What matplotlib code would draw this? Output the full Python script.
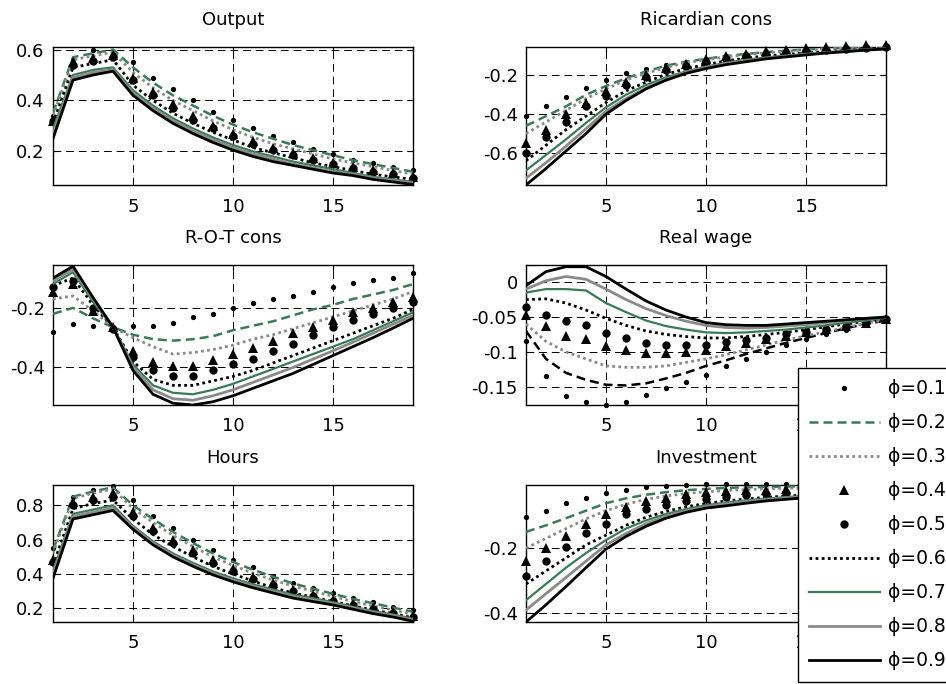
import numpy as np
import matplotlib
matplotlib.use("Agg")
import matplotlib.pyplot as plt
from matplotlib.ticker import FuncFormatter

plt.rcParams['font.family'] = ['DejaVu Sans']
plt.rcParams['axes.unicode_minus'] = False

#  data
periods = list(range(1, 20))
phis = [0.1, 0.2, 0.3, 0.4, 0.5, 0.6, 0.7, 0.8, 0.9]
titles = ['Output', 'Ricardian cons', 'R-O-T cons', 'Real wage', 'Hours', 'Investment']

output_irf = [
    [0.34, 0.56, 0.60, 0.59, 0.55, 0.49, 0.445, 0.40, 0.355, 0.325, 0.29, 0.26, 0.235, 0.21, 0.19, 0.168, 0.155, 0.14, 0.125],
    [0.35, 0.57, 0.585, 0.60, 0.53, 0.47, 0.42, 0.38, 0.34, 0.305, 0.275, 0.25, 0.225, 0.205, 0.185, 0.165, 0.15, 0.135, 0.12],
    [0.34, 0.56, 0.575, 0.59, 0.51, 0.45, 0.40, 0.36, 0.32, 0.285, 0.255, 0.23, 0.21, 0.19, 0.17, 0.155, 0.14, 0.125, 0.11],
    [0.32, 0.55, 0.565, 0.58, 0.49, 0.435, 0.385, 0.34, 0.30, 0.27, 0.24, 0.215, 0.195, 0.175, 0.155, 0.14, 0.125, 0.115, 0.10],
    [0.32, 0.54, 0.555, 0.57, 0.48, 0.42, 0.37, 0.325, 0.29, 0.26, 0.23, 0.205, 0.185, 0.165, 0.15, 0.135, 0.12, 0.11, 0.095],
    [0.31, 0.53, 0.545, 0.56, 0.46, 0.40, 0.35, 0.31, 0.275, 0.245, 0.215, 0.195, 0.175, 0.155, 0.14, 0.125, 0.11, 0.10, 0.09],
    [0.29, 0.50, 0.52, 0.53, 0.44, 0.38, 0.33, 0.29, 0.255, 0.225, 0.20, 0.18, 0.16, 0.145, 0.13, 0.115, 0.10, 0.09, 0.08],
    [0.27, 0.49, 0.51, 0.52, 0.43, 0.37, 0.32, 0.28, 0.245, 0.215, 0.19, 0.17, 0.15, 0.135, 0.12, 0.11, 0.095, 0.085, 0.075],
    [0.25, 0.48, 0.50, 0.515, 0.42, 0.36, 0.31, 0.27, 0.235, 0.205, 0.18, 0.16, 0.145, 0.13, 0.115, 0.105, 0.09, 0.08, 0.07],
]

ricardian_irf = [
    [-0.41, -0.36, -0.31, -0.265, -0.225, -0.19, -0.165, -0.145, -0.13, -0.115, -0.10, -0.09, -0.08, -0.072, -0.066, -0.06, -0.056, -0.052, -0.05],
    [-0.46, -0.41, -0.36, -0.30, -0.255, -0.215, -0.18, -0.15, -0.13, -0.115, -0.10, -0.09, -0.08, -0.073, -0.067, -0.062, -0.058, -0.055, -0.053],
    [-0.50, -0.44, -0.38, -0.32, -0.27, -0.225, -0.19, -0.16, -0.135, -0.12, -0.105, -0.094, -0.084, -0.076, -0.07, -0.064, -0.06, -0.057, -0.055],
    [-0.55, -0.48, -0.40, -0.34, -0.28, -0.235, -0.20, -0.16, -0.14, -0.118, -0.101, -0.089, -0.077, -0.068, -0.061, -0.054, -0.048, -0.043, -0.045],
    [-0.60, -0.52, -0.44, -0.36, -0.305, -0.25, -0.21, -0.175, -0.15, -0.13, -0.115, -0.10, -0.09, -0.083, -0.077, -0.071, -0.066, -0.061, -0.056],
    [-0.64, -0.56, -0.48, -0.41, -0.34, -0.28, -0.235, -0.195, -0.165, -0.145, -0.125, -0.112, -0.10, -0.092, -0.085, -0.078, -0.072, -0.066, -0.06],
    [-0.69, -0.61, -0.53, -0.445, -0.365, -0.30, -0.25, -0.21, -0.18, -0.155, -0.135, -0.12, -0.108, -0.098, -0.09, -0.082, -0.075, -0.068, -0.062],
    [-0.73, -0.65, -0.565, -0.475, -0.385, -0.32, -0.265, -0.22, -0.185, -0.16, -0.14, -0.125, -0.112, -0.102, -0.092, -0.083, -0.076, -0.069, -0.063],
    [-0.765, -0.68, -0.59, -0.50, -0.40, -0.33, -0.27, -0.225, -0.19, -0.165, -0.145, -0.13, -0.115, -0.105, -0.095, -0.085, -0.078, -0.07, -0.064],
]

rot_irf = [
    [-0.28, -0.255, -0.26, -0.265, -0.26, -0.26, -0.25, -0.23, -0.22, -0.20, -0.185, -0.17, -0.16, -0.145, -0.13, -0.115, -0.105, -0.10, -0.083],
    [-0.22, -0.20, -0.235, -0.265, -0.29, -0.305, -0.31, -0.305, -0.295, -0.275, -0.26, -0.245, -0.225, -0.205, -0.19, -0.17, -0.155, -0.14, -0.12],
    [-0.17, -0.16, -0.21, -0.265, -0.30, -0.33, -0.355, -0.35, -0.34, -0.325, -0.305, -0.29, -0.27, -0.25, -0.23, -0.21, -0.19, -0.17, -0.145],
    [-0.145, -0.12, -0.21, -0.265, -0.345, -0.38, -0.395, -0.395, -0.375, -0.355, -0.335, -0.31, -0.285, -0.265, -0.24, -0.215, -0.20, -0.18, -0.165],
    [-0.13, -0.11, -0.20, -0.27, -0.365, -0.41, -0.43, -0.43, -0.41, -0.39, -0.37, -0.345, -0.32, -0.29, -0.265, -0.24, -0.22, -0.20, -0.18],
    [-0.125, -0.10, -0.19, -0.265, -0.38, -0.44, -0.46, -0.46, -0.445, -0.43, -0.41, -0.385, -0.36, -0.335, -0.31, -0.285, -0.26, -0.235, -0.205],
    [-0.12, -0.08, -0.18, -0.265, -0.39, -0.46, -0.485, -0.49, -0.475, -0.455, -0.43, -0.405, -0.38, -0.355, -0.33, -0.305, -0.275, -0.245, -0.215],
    [-0.11, -0.07, -0.17, -0.265, -0.40, -0.475, -0.505, -0.51, -0.495, -0.475, -0.45, -0.425, -0.4, -0.372, -0.344, -0.315, -0.285, -0.255, -0.225],
    [-0.10, -0.06, -0.165, -0.265, -0.41, -0.49, -0.52, -0.526, -0.515, -0.495, -0.47, -0.445, -0.42, -0.39, -0.36, -0.33, -0.30, -0.268, -0.235],
]

wage_irf = [
    [-0.085, -0.135, -0.163, -0.172, -0.176, -0.172, -0.162, -0.152, -0.143, -0.133, -0.12, -0.11, -0.10, -0.09, -0.082, -0.075, -0.068, -0.061, -0.055],
    [-0.07, -0.11, -0.13, -0.14, -0.147, -0.148, -0.145, -0.138, -0.13, -0.12, -0.112, -0.103, -0.095, -0.087, -0.08, -0.073, -0.066, -0.06, -0.055],
    [-0.06, -0.085, -0.10, -0.11, -0.12, -0.122, -0.122, -0.12, -0.115, -0.11, -0.104, -0.097, -0.09, -0.083, -0.077, -0.071, -0.065, -0.059, -0.054],
    [-0.047, -0.063, -0.077, -0.082, -0.092, -0.097, -0.101, -0.101, -0.10, -0.097, -0.092, -0.087, -0.082, -0.077, -0.072, -0.067, -0.063, -0.058, -0.053],
    [-0.035, -0.047, -0.055, -0.062, -0.073, -0.08, -0.087, -0.09, -0.09, -0.09, -0.086, -0.083, -0.08, -0.075, -0.071, -0.067, -0.063, -0.058, -0.053],
    [-0.025, -0.024, -0.03, -0.04, -0.052, -0.062, -0.07, -0.075, -0.078, -0.08, -0.08, -0.078, -0.075, -0.072, -0.068, -0.064, -0.06, -0.056, -0.052],
    [-0.015, -0.01, -0.01, -0.012, -0.03, -0.043, -0.055, -0.063, -0.068, -0.072, -0.073, -0.072, -0.07, -0.068, -0.065, -0.062, -0.058, -0.055, -0.051],
    [-0.01, 0.002, 0.008, 0.004, -0.01, -0.025, -0.038, -0.048, -0.056, -0.062, -0.065, -0.066, -0.065, -0.063, -0.061, -0.058, -0.055, -0.052, -0.05],
    [-0.005, 0.015, 0.022, 0.022, 0.008, -0.01, -0.027, -0.04, -0.05, -0.058, -0.061, -0.062, -0.062, -0.06, -0.058, -0.056, -0.054, -0.052, -0.05],
]

hours_irf = [
    [0.55, 0.85, 0.89, 0.915, 0.83, 0.74, 0.67, 0.60, 0.54, 0.48, 0.44, 0.39, 0.35, 0.32, 0.29, 0.26, 0.235, 0.21, 0.19],
    [0.54, 0.85, 0.88, 0.905, 0.80, 0.72, 0.645, 0.58, 0.52, 0.47, 0.425, 0.385, 0.345, 0.315, 0.285, 0.255, 0.23, 0.205, 0.18],
    [0.52, 0.84, 0.87, 0.895, 0.78, 0.70, 0.625, 0.56, 0.50, 0.45, 0.405, 0.365, 0.33, 0.30, 0.27, 0.24, 0.215, 0.19, 0.165],
    [0.48, 0.82, 0.85, 0.87, 0.76, 0.67, 0.60, 0.54, 0.48, 0.43, 0.385, 0.345, 0.31, 0.28, 0.25, 0.225, 0.20, 0.18, 0.155],
    [0.47, 0.80, 0.83, 0.85, 0.74, 0.65, 0.58, 0.52, 0.465, 0.415, 0.37, 0.335, 0.30, 0.27, 0.245, 0.22, 0.195, 0.175, 0.15],
    [0.45, 0.78, 0.81, 0.83, 0.72, 0.63, 0.56, 0.50, 0.445, 0.40, 0.36, 0.32, 0.29, 0.265, 0.24, 0.215, 0.19, 0.17, 0.145],
    [0.42, 0.75, 0.775, 0.80, 0.68, 0.59, 0.52, 0.465, 0.415, 0.375, 0.34, 0.31, 0.28, 0.26, 0.236, 0.21, 0.185, 0.165, 0.14],
    [0.40, 0.735, 0.76, 0.785, 0.67, 0.58, 0.51, 0.455, 0.405, 0.365, 0.33, 0.30, 0.27, 0.25, 0.228, 0.203, 0.178, 0.158, 0.132],
    [0.375, 0.72, 0.745, 0.77, 0.66, 0.57, 0.50, 0.445, 0.395, 0.355, 0.32, 0.29, 0.26, 0.24, 0.22, 0.195, 0.17, 0.15, 0.125],
]

invest_irf = [
    [-0.105, -0.085, -0.062, -0.046, -0.031, -0.02, -0.012, -0.008, -0.006, -0.004, -0.004, -0.004, -0.004, -0.004, -0.004, -0.004, -0.004, -0.004, -0.004],
    [-0.15, -0.13, -0.108, -0.085, -0.062, -0.047, -0.036, -0.028, -0.022, -0.018, -0.015, -0.013, -0.012, -0.011, -0.01, -0.01, -0.009, -0.009, -0.008],
    [-0.20, -0.17, -0.14, -0.11, -0.085, -0.065, -0.05, -0.04, -0.032, -0.027, -0.023, -0.02, -0.018, -0.016, -0.015, -0.014, -0.013, -0.012, -0.012],
    [-0.24, -0.20, -0.162, -0.126, -0.095, -0.074, -0.056, -0.045, -0.035, -0.028, -0.024, -0.022, -0.02, -0.019, -0.018, -0.017, -0.016, -0.015, -0.015],
    [-0.285, -0.24, -0.195, -0.155, -0.125, -0.095, -0.08, -0.066, -0.056, -0.048, -0.043, -0.038, -0.035, -0.032, -0.03, -0.028, -0.026, -0.025, -0.024],
    [-0.31, -0.27, -0.23, -0.19, -0.16, -0.13, -0.105, -0.087, -0.073, -0.063, -0.055, -0.049, -0.044, -0.04, -0.037, -0.034, -0.032, -0.03, -0.028],
    [-0.36, -0.31, -0.26, -0.215, -0.175, -0.14, -0.115, -0.095, -0.08, -0.068, -0.06, -0.053, -0.048, -0.043, -0.04, -0.037, -0.034, -0.032, -0.03],
    [-0.39, -0.34, -0.29, -0.24, -0.19, -0.155, -0.125, -0.102, -0.085, -0.073, -0.064, -0.057, -0.051, -0.046, -0.042, -0.039, -0.036, -0.033, -0.031],
    [-0.427, -0.374, -0.318, -0.26, -0.203, -0.164, -0.133, -0.108, -0.09, -0.077, -0.07, -0.062, -0.055, -0.05, -0.045, -0.042, -0.038, -0.035, -0.033],
]

panels = [output_irf, ricardian_irf, rot_irf, wage_irf, hours_irf, invest_irf]
ylims = [(0.068, 0.61), (-0.765, -0.054), (-0.526, -0.056),
         (-0.176, 0.0245), (0.121, 0.918), (-0.427, -0.006)]
yticks = [[0.2, 0.4, 0.6], [-0.6, -0.4, -0.2], [-0.4, -0.2],
          [-0.15, -0.1, -0.05, 0], [0.2, 0.4, 0.6, 0.8], [-0.4, -0.2]]

green = '#3b7a57'
gray = '#8a8a8a'
# (linestyle, marker, color, lw, markersize)
styles = [
    ('none', 'o', 'k', 0, 3.8),
    ((0, (3.6, 2.0)), None, green, 1.8, 0),
    ((0, (1.0, 1.2)), None, gray, 2.0, 0),
    ('none', '^', 'k', 0, 7),
    ('none', 'o', 'k', 0, 6),
    ((0, (1.0, 1.2)), None, 'k', 2.0, 0),
    ('-', None, green, 1.6, 0),
    ('-', None, gray, 2.0, 0),
    ('-', None, 'k', 2.0, 0),
]

fig = plt.figure(figsize=(9.46, 6.84), dpi=100)

lefts = [53, 526]
rows = [(47, 185), (265, 405), (485, 622)]
W, H = 946.0, 684.0
fs = 13

handles = []
for i, data in enumerate(panels):
    col = i % 2
    top, bot = rows[i // 2]
    ax = fig.add_axes([lefts[col] / W, 1 - bot / H, 360 / W, (bot - top) / H])
    for j, series in enumerate(data):
        ls, mk, c, lw, ms = styles[j]
        if i == 3 and j == 1:
            c = 'k'  # dashed line drawn in black in this panel
        line, = ax.plot(periods, series, linestyle=ls, marker=mk, color=c,
                        lw=lw, markersize=ms, markeredgewidth=0,
                        clip_on=(mk is None), zorder=3)
        if i == 0:
            handles.append(line)
    ax.set_xlim(1, 19)
    ax.set_ylim(*ylims[i])
    ax.set_xticks([5, 10, 15])
    ax.set_yticks(yticks[i])
    ax.yaxis.set_major_formatter(FuncFormatter(lambda v, p: '%g' % round(v, 4)))
    ax.grid(True, color='k', linestyle=(0, (8, 5)), lw=0.7)
    ax.set_axisbelow(True)
    ax.tick_params(direction='in', top=True, right=True, length=4,
                   labelsize=fs, width=0.8)
    ax.tick_params(axis='x', pad=9)
    ax.tick_params(axis='y', pad=6)
    for s in ax.spines.values():
        s.set_linewidth(1.0)
    ax.set_title(titles[i], fontsize=fs, pad=16)

labels = ['\u03d5=%g' % p for p in phis]
leg = fig.legend(handles, labels, loc='upper left',
                 bbox_to_anchor=(798 / W, 1 - 368 / H), borderaxespad=0,
                 fontsize=13.5, frameon=True, fancybox=False, framealpha=1,
                 edgecolor='k', handlelength=3.75, handletextpad=0.45,
                 labelspacing=0.8, borderpad=0.6)
leg.get_frame().set_linewidth(1.0)

fig.savefig('out.png', dpi=100)
